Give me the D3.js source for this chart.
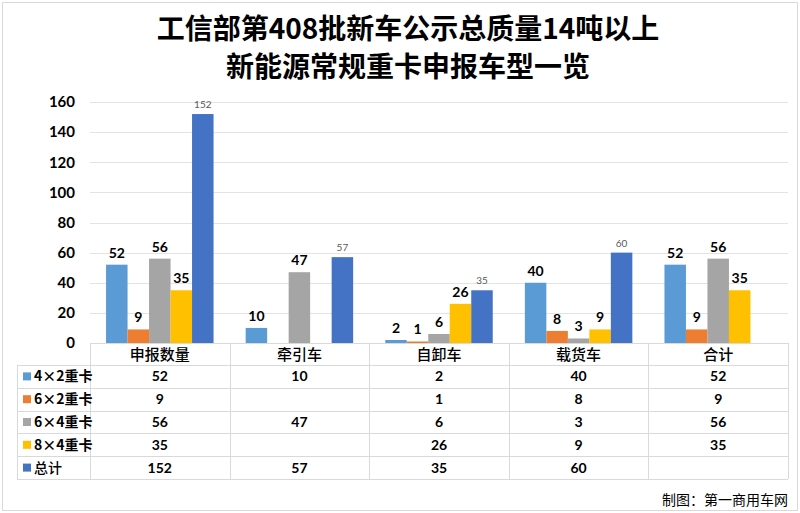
<!DOCTYPE html>
<html><head><meta charset="utf-8">
<script src="https://cdn.jsdelivr.net/npm/d3@7"></script>
<style>
body{margin:0;background:#fff;}
svg{display:block;}
</style></head>
<body>
<svg id="c" width="800" height="513"></svg>
<script>
const categories = ["申报数量","牵引车","自卸车","载货车","合计"];
const seriesNames = ["4×2重卡","6×2重卡","6×4重卡","8×4重卡","总计"];
const s4x2 = [52,10,2,40,52];
const s6x2 = [9,null,1,8,9];
const s6x4 = [56,47,6,3,56];
const s8x4 = [35,null,26,9,35];
const sTotal = [152,57,35,60,null];
const colors = ["#5B9BD5","#ED7D31","#A5A5A5","#FFC000","#4472C4"];
const yTicks = [0,20,40,60,80,100,120,140,160];
const titleLines = ["工信部第408批新车公示总质量14吨以上","新能源常规重卡申报车型一览"];
const footer = "制图：第一商用车网";

const series = [s4x2,s6x2,s6x4,s8x4,sTotal];
const svg = d3.select("#c");
const cjk = "'Noto Sans CJK SC','Noto Sans',sans-serif";
const num = "Lato,'Noto Sans CJK SC',sans-serif";

// frame
svg.append("rect").attr("x",2.5).attr("y",2.5).attr("width",795).attr("height",508)
  .attr("fill","#fff").attr("stroke","#d9d9d9");

// title
svg.selectAll(".title").data(titleLines).join("text")
  .attr("x",408).attr("y",(d,i)=>39+i*38).attr("text-anchor","middle")
  .attr("font-family",cjk).attr("font-weight","bold").attr("font-size",28).attr("fill","#000")
  .text(d=>d);

const x0 = 90, x1 = 788, yTop = 102, yBot = 343;
const x = d3.scaleBand().domain(categories).range([x0,x1]).paddingInner(0).paddingOuter(0);
const y = d3.scaleLinear().domain([0,160]).range([yBot,yTop]);
const groupW = x.bandwidth()*0.77;
const xs = d3.scaleBand().domain(d3.range(series.length)).range([0,groupW]).padding(0);
const off = (x.bandwidth()-groupW)/2;

// grid
svg.append("g").selectAll("line").data(yTicks.slice(1)).join("line")
  .attr("x1",x0).attr("x2",x1).attr("y1",d=>Math.round(y(d))+0.5).attr("y2",d=>Math.round(y(d))+0.5)
  .attr("stroke","#e3e3e3").attr("stroke-width",1);

// y axis labels
const yAxis = d3.axisLeft(y).tickValues(yTicks).tickSize(0).tickPadding(0);
const gy = svg.append("g").attr("transform","translate(75,0)").call(yAxis);
gy.select(".domain").remove();
gy.selectAll("text").attr("font-family",num).attr("font-weight","bold").attr("font-size",15).attr("fill","#000");

// bars
series.forEach((s,si)=>{
  const g = svg.append("g");
  const data = categories.map((c,ci)=>({c, v:s[ci]})).filter(d=>d.v!==null);
  g.selectAll("rect").data(data).join("rect")
    .attr("x",d=>x(d.c)+off+xs(si)).attr("width",xs.bandwidth())
    .attr("y",d=>y(d.v)).attr("height",d=>yBot-y(d.v)).attr("fill",colors[si]);
  g.selectAll("text").data(data).join("text")
    .attr("x",d=>x(d.c)+off+xs(si)+xs.bandwidth()/2)
    .attr("y",d=>y(d.v)-(si===4?6:7)).attr("text-anchor","middle")
    .attr("font-family",num)
    .attr("font-weight",si===4?"normal":"bold")
    .attr("font-size",si===4?10:14)
    .attr("fill",si===4?"#595959":"#000")
    .text(d=>d.v);
});

// data table
const rowTop = 343, headH = 22, rowH = 22.8, legX = 17;
const tableBot = rowTop+headH+rowH*series.length;
const tg = svg.append("g");
const lc = "#d9d9d9";
tg.append("line").attr("x1",x0).attr("x2",x1).attr("y1",rowTop+0.5).attr("y2",rowTop+0.5).attr("stroke",lc);
d3.range(series.length+1).forEach(i=>{
  const yy = Math.round(rowTop+headH+i*rowH)+0.5;
  tg.append("line").attr("x1",legX).attr("x2",x1).attr("y1",yy).attr("y2",yy).attr("stroke",lc);
});
categories.forEach(c=>{
  tg.append("line").attr("x1",Math.round(x(c))+0.5).attr("x2",Math.round(x(c))+0.5)
    .attr("y1",rowTop).attr("y2",tableBot).attr("stroke",lc);
});
tg.append("line").attr("x1",x1+0.5).attr("x2",x1+0.5).attr("y1",rowTop).attr("y2",tableBot).attr("stroke",lc);
tg.append("line").attr("x1",legX+0.5).attr("x2",legX+0.5).attr("y1",rowTop+headH).attr("y2",tableBot).attr("stroke",lc);

tg.selectAll(".hdr").data(categories).join("text")
  .attr("x",c=>x(c)+x.bandwidth()/2).attr("y",rowTop+headH/2+5.5).attr("text-anchor","middle")
  .attr("font-family",cjk).attr("font-size",15).attr("font-weight",500).attr("fill","#000").text(c=>c);

series.forEach((s,si)=>{
  const cy = rowTop+headH+rowH*si+rowH/2;
  tg.append("rect").attr("x",23).attr("y",cy-4).attr("width",8).attr("height",8).attr("fill",colors[si]);
  tg.append("text").attr("x",34).attr("y",cy+5).attr("font-family",cjk)
    .attr("font-weight",si===4?500:"bold")
    .attr("font-size",14).attr("fill","#000").text(seriesNames[si]);
  categories.forEach((c,ci)=>{
    if(s[ci]===null) return;
    tg.append("text").attr("x",x(c)+x.bandwidth()/2).attr("y",cy+5).attr("text-anchor","middle")
      .attr("font-family",num).attr("font-weight","bold").attr("font-size",14).attr("fill","#000")
      .text(s[ci]);
  });
});

svg.append("text").attr("x",788).attr("y",505).attr("text-anchor","end")
  .attr("font-family",cjk).attr("font-size",14).attr("fill","#000").text(footer);
</script>
</body></html>
